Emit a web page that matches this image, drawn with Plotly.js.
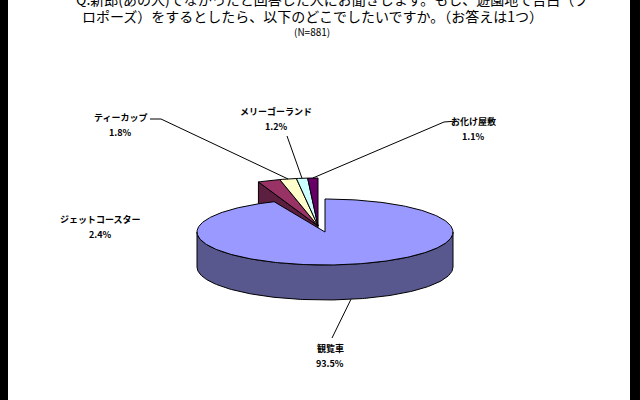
<!DOCTYPE html>
<html>
<head>
<meta charset="utf-8">
<script src="https://cdn.plot.ly/plotly-3.0.1.min.js"></script>
<style>
  html, body { margin: 0; padding: 0; background: #fff; }
  #pie-chart { width: 640px; height: 400px; }
</style>
</head>
<body>
<div id="pie-chart"></div>
<script>
// data
var categories = ['観覧車', 'ジェットコースター', 'ティーカップ', 'メリーゴーランド', 'お化け屋敷'];
var shares = [93.5, 2.4, 1.8, 1.2, 1.1];
var sampleSize = 881;
var titleLines = [
  'Q.新郎(あの人)でなかったと回答した人にお聞きします。もし、遊園地で告白（プ',
  'ロポーズ）をするとしたら、以下のどこでしたいですか。（お答えは1つ）'
];

// look
var colors = ['#9999ff', '#993366', '#ffffcc', '#ccffff', '#660066'];
var sideColor = '#58588f';
var wallColor = '#5c1f40';
var main = { cx: 325, cy: 232, rx: 128, ry: 33, depth: 35 };
var group = { cx: 318, cy: 226, rx: 150, ry: 48 };
// label name centre, leader start (null = no leader)
var labelPos = [
  { x: 330, y: 348, lead: [332, 338] },
  { x: 100, y: 219, lead: null },
  { x: 120, y: 117, lead: [150, 119], bend: [161, 119] },
  { x: 276, y: 111, lead: [287, 136] },
  { x: 473, y: 121, lead: [457, 121], bend: [444, 122] }
];

document.addEventListener('DOMContentLoaded', function() {
  var total = shares.reduce(function(a, b) { return a + b; }, 0);
  var starts = [], ends = [], acc = 0;
  shares.forEach(function(v) {
    starts.push(acc * 360 / total);
    acc += v;
    ends.push(acc * 360 / total);
  });

  function pt(g, deg, dy) {
    var r = deg * Math.PI / 180;
    return [g.cx + g.rx * Math.sin(r), g.cy - g.ry * Math.cos(r) + (dy || 0)];
  }
  function arc(g, a0, a1, dy) {
    var xs = [], ys = [], n = Math.max(2, Math.ceil(Math.abs(a1 - a0)));
    for (var k = 0; k <= n; k++) {
      var p = pt(g, a0 + (a1 - a0) * k / n, dy);
      xs.push(p[0]); ys.push(p[1]);
    }
    return { x: xs, y: ys };
  }
  function poly(xs, ys, fill) {
    return {
      x: xs, y: ys, mode: 'lines', fill: 'toself', fillcolor: fill,
      line: { color: '#000', width: 1 }, hoverinfo: 'skip', showlegend: false
    };
  }

  var traces = [];

  // radial wall of the first small slice (group pulled out to the back)
  var o = pt(group, starts[1]);
  traces.push(poly(
    [o[0], group.cx, group.cx, o[0], o[0]],
    [o[1], group.cy, group.cy + main.depth, o[1] + main.depth, o[1]],
    wallColor));

  // small slice tops
  for (var i = 1; i < shares.length; i++) {
    var a = arc(group, starts[i], ends[i]);
    traces.push(poly([group.cx].concat(a.x, [group.cx]), [group.cy].concat(a.y, [group.cy]), colors[i]));
  }

  // big slice side (front half) and top
  var s1 = arc(main, 90, 270), s2 = arc(main, 270, 90, main.depth);
  traces.push(poly(s1.x.concat(s2.x, [s1.x[0]]), s1.y.concat(s2.y, [s1.y[0]]), sideColor));
  var t = arc(main, starts[0], ends[0]);
  traces.push(poly([main.cx].concat(t.x, [main.cx]), [main.cy].concat(t.y, [main.cy]), colors[0]));

  // leader lines and labels
  var annotations = [];
  var labelFont = { size: 9, color: '#000', weight: 'bold' };
  labelPos.forEach(function(lp, i) {
    if (lp.lead) {
      var mid = (starts[i] + ends[i]) / 2;
      var end = i === 0 ? pt(main, mid, main.depth) : pt(group, mid);
      var xs = [lp.lead[0]], ys = [lp.lead[1]];
      if (lp.bend) { xs.push(lp.bend[0]); ys.push(lp.bend[1]); }
      xs.push(end[0]); ys.push(end[1]);
      traces.push({ x: xs, y: ys, mode: 'lines', line: { color: '#000', width: 1 },
        hoverinfo: 'skip', showlegend: false });
    }
    annotations.push({ x: lp.x, y: lp.y, text: categories[i], showarrow: false,
      xref: 'x', yref: 'y', font: labelFont });
    annotations.push({ x: lp.x, y: lp.y + 15, text: shares[i].toFixed(1) + '%', showarrow: false,
      xref: 'x', yref: 'y', font: labelFont });
  });

  // title lines (first one runs off the top edge)
  annotations.push({ x: 332 / 640, y: 1.0025, xref: 'paper', yref: 'paper', yanchor: 'middle',
    text: titleLines[0], showarrow: false, font: { size: 14, color: '#000' } });
  annotations.push({ x: 312, y: 16, text: titleLines[1], showarrow: false, xref: 'x', yref: 'y',
    font: { size: 14, color: '#000' } });
  annotations.push({ x: 312, y: 31, text: '(N=' + sampleSize + ')', showarrow: false, xref: 'x', yref: 'y',
    font: { size: 10, color: '#000' } });

  var layout = {
    width: 640, height: 400,
    margin: { l: 0, r: 0, t: 0, b: 0 },
    paper_bgcolor: '#fff', plot_bgcolor: '#fff',
    font: { family: '"Noto Sans CJK JP", "DejaVu Sans", sans-serif' },
    xaxis: { range: [0, 640], visible: false, fixedrange: true },
    yaxis: { range: [400, 0], visible: false, fixedrange: true },
    showlegend: false,
    annotations: annotations,
    shapes: [
      { type: 'rect', xref: 'x', yref: 'y', x0: 0, x1: 8, y0: 0, y1: 400, layer: 'above',
        fillcolor: '#000', line: { width: 0 } },
      { type: 'rect', xref: 'x', yref: 'y', x0: 630, x1: 640, y0: 0, y1: 400, layer: 'above',
        fillcolor: '#000', line: { width: 0 } }
    ]
  };

  Plotly.newPlot('pie-chart', traces, layout, { staticPlot: true });
});
</script>
</body>
</html>
